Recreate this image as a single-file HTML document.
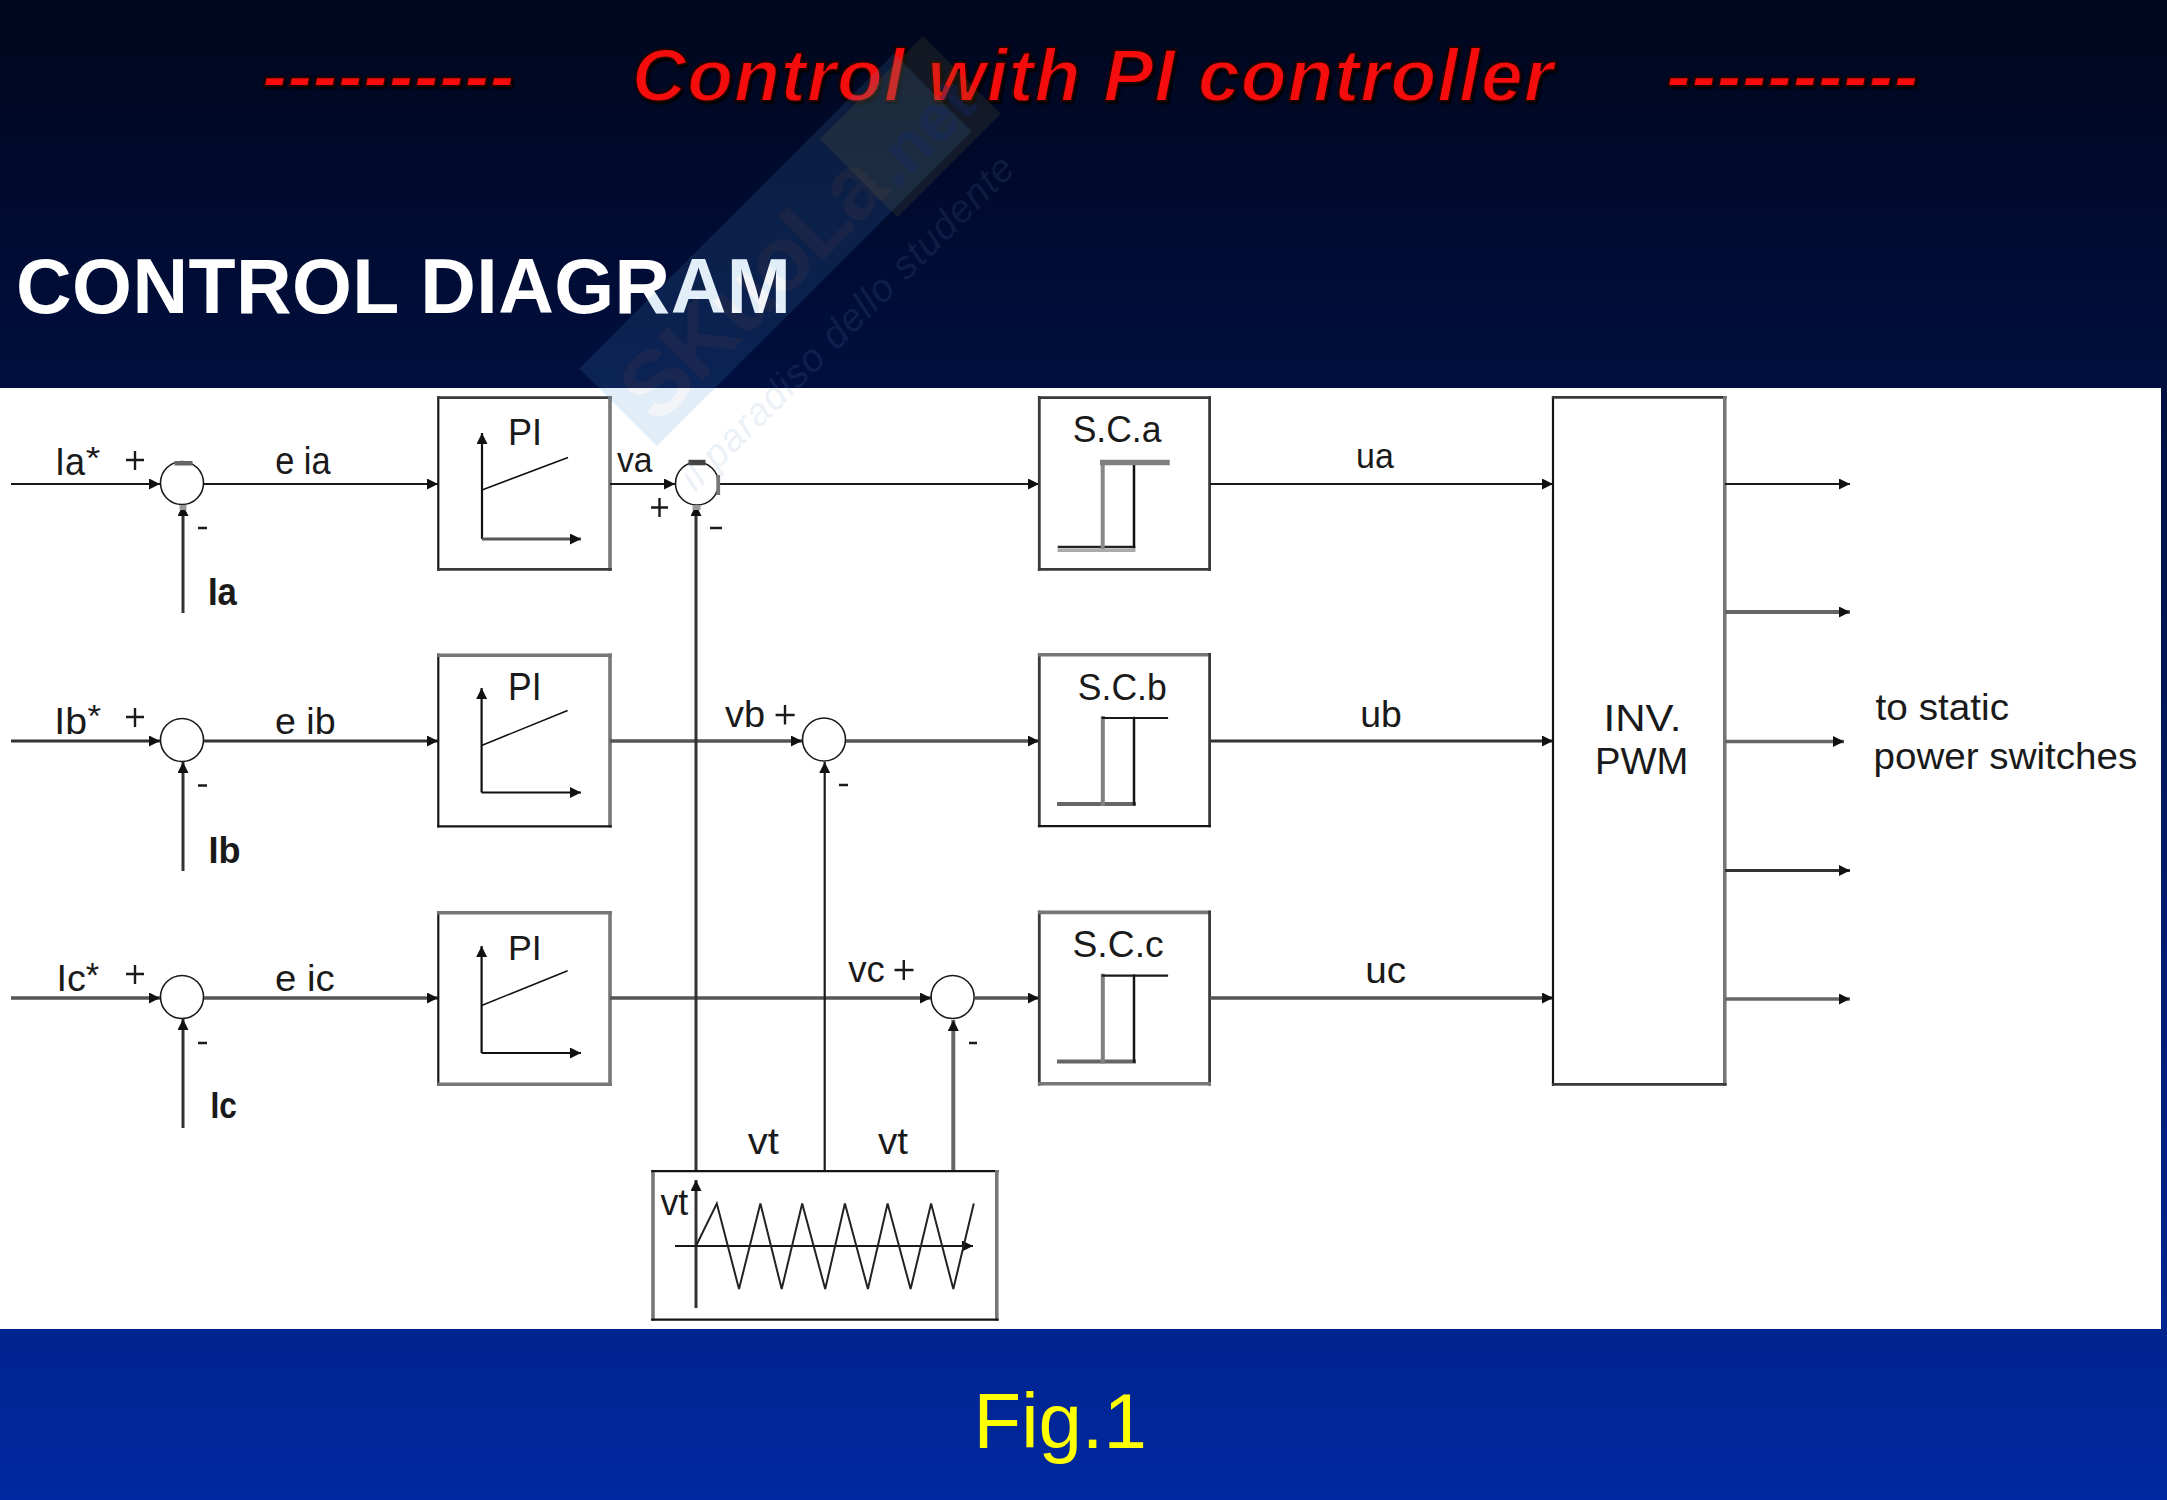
<!DOCTYPE html>
<html><head><meta charset="utf-8">
<style>
html,body{margin:0;padding:0;}
body{width:2167px;height:1500px;overflow:hidden;position:relative;
background:linear-gradient(to bottom,#00061c 0px,#000f3f 388px,#00248f 1330px,#0028a0 1500px);
font-family:"Liberation Sans",sans-serif;}
.t{position:absolute;white-space:pre;line-height:1;}
#title{color:#f50d0d;font-weight:bold;font-style:italic;font-size:75px;letter-spacing:0.3px;text-shadow:2px 3px 2px #000,0 0 2px #000;-webkit-text-stroke:2px #200404;}
#head{color:#fff;font-weight:bold;font-size:77px;letter-spacing:0.45px;}
#fig{color:#ffff00;font-size:78px;}
#white{position:absolute;left:0;top:388px;width:2161px;height:941px;background:#fff;}
svg{position:absolute;left:0;top:0;}
</style></head>
<body>
<div id="white"></div>
<div class="t" id="title" style="left:262px;top:38px;">----------</div>
<div class="t" id="title2" style="position:absolute;left:632px;top:38px;color:#f50d0d;font-weight:bold;font-style:italic;font-size:75px;letter-spacing:1.0px;text-shadow:2px 3px 2px #000,0 0 2px #000;-webkit-text-stroke:2px #200404;white-space:pre;line-height:1;">Control with PI controller</div>
<div class="t" id="title3" style="position:absolute;left:1666px;top:38px;color:#f50d0d;font-weight:bold;font-style:italic;font-size:75px;letter-spacing:0.3px;text-shadow:2px 3px 2px #000,0 0 2px #000;-webkit-text-stroke:2px #200404;white-space:pre;line-height:1;">----------</div>
<div class="t" id="head" style="left:16px;top:247.5px;">CONTROL DIAGRAM</div>
<div class="t" id="fig" style="left:973.5px;top:1381.7px;">Fig.1</div>

<svg width="2167" height="1500" viewBox="0 0 2167 1500">
<defs>
<marker id="ar" markerWidth="12" markerHeight="12" refX="11" refY="5.5" orient="auto" markerUnits="userSpaceOnUse">
<path d="M0,0 L11,5.5 L0,11 z" fill="#111"/>
</marker>
</defs>
<g fill="none" stroke="#1a1a1a" stroke-width="2">
<!-- Row A -->
<line x1="11" y1="484" x2="160" y2="484" marker-end="url(#ar)"/>
<circle cx="182" cy="483" r="21.5" stroke-width="1.6"/>
<line x1="183" y1="613" x2="183" y2="505" marker-end="url(#ar)" stroke="#333" stroke-width="3"/>
<line x1="204" y1="484" x2="438" y2="484" marker-end="url(#ar)"/>
<path d="M438.3,396.20000000000005 V570.8" stroke="#151515" stroke-width="2.2"/><path d="M437.2,397.6 H611.8" stroke="#3a3a3a" stroke-width="2.8"/><path d="M610,396.20000000000005 V570.8" stroke="#777" stroke-width="3.6"/><path d="M437.2,569.4 H611.8" stroke="#3a3a3a" stroke-width="2.8"/>
<line x1="610" y1="484" x2="675" y2="484" marker-end="url(#ar)"/>
<circle cx="697" cy="483.5" r="21.5" stroke-width="1.6"/>
<line x1="719" y1="484" x2="1039" y2="484" marker-end="url(#ar)"/>
<path d="M1039.3,396.20000000000005 V570.8" stroke="#3a3a3a" stroke-width="2.8"/><path d="M1037.8999999999999,397.6 H1211.0" stroke="#3a3a3a" stroke-width="2.8"/><path d="M1209.6,396.20000000000005 V570.8" stroke="#3a3a3a" stroke-width="2.8"/><path d="M1037.8999999999999,569.4 H1211.0" stroke="#3a3a3a" stroke-width="2.8"/>
<line x1="1210" y1="484" x2="1553" y2="484" marker-end="url(#ar)"/>
<!-- Row B -->
<line x1="11" y1="741" x2="160" y2="741" marker-end="url(#ar)" stroke="#333" stroke-width="3"/>
<circle cx="182" cy="740" r="21.5" stroke-width="1.6"/>
<line x1="183" y1="871" x2="183" y2="762" marker-end="url(#ar)" stroke="#333" stroke-width="3"/>
<line x1="204" y1="741" x2="438" y2="741" marker-end="url(#ar)" stroke="#333" stroke-width="3"/>
<path d="M438.3,653.5 V827.4" stroke="#151515" stroke-width="2.2"/><path d="M437.2,655.3 H611.8" stroke="#777" stroke-width="3.6"/><path d="M610,653.5 V827.4" stroke="#777" stroke-width="3.6"/><path d="M437.2,826.3 H611.8" stroke="#151515" stroke-width="2.2"/>
<line x1="610" y1="741" x2="802" y2="741" marker-end="url(#ar)" stroke="#555" stroke-width="3.5"/>
<circle cx="824" cy="739.5" r="21.5" stroke-width="1.6"/>
<line x1="846" y1="741" x2="1039" y2="741" marker-end="url(#ar)" stroke="#555" stroke-width="3.5"/>
<path d="M1039.3,653.0 V827.2" stroke="#3a3a3a" stroke-width="2.8"/><path d="M1037.8999999999999,654.8 H1211.0" stroke="#777" stroke-width="3.6"/><path d="M1209.6,653.0 V827.2" stroke="#3a3a3a" stroke-width="2.8"/><path d="M1037.8999999999999,826.1 H1211.0" stroke="#151515" stroke-width="2.2"/>
<line x1="1210" y1="741" x2="1553" y2="741" marker-end="url(#ar)" stroke="#333" stroke-width="3"/>
<!-- Row C -->
<line x1="11" y1="998" x2="160" y2="998" marker-end="url(#ar)" stroke="#555" stroke-width="3.5"/>
<circle cx="182" cy="997" r="21.5" stroke-width="1.6"/>
<line x1="183" y1="1128" x2="183" y2="1019" marker-end="url(#ar)" stroke="#333" stroke-width="3"/>
<line x1="204" y1="998" x2="438" y2="998" marker-end="url(#ar)" stroke="#555" stroke-width="3.5"/>
<path d="M438.3,911.0 V1086.0" stroke="#151515" stroke-width="2.2"/><path d="M437.2,912.8 H611.8" stroke="#777" stroke-width="3.6"/><path d="M610,911.0 V1086.0" stroke="#777" stroke-width="3.6"/><path d="M437.2,1084.2 H611.8" stroke="#777" stroke-width="3.6"/>
<line x1="610" y1="998" x2="931" y2="998" marker-end="url(#ar)" stroke="#555" stroke-width="3.5"/>
<circle cx="952.6" cy="997" r="21.5" stroke-width="1.6"/>
<line x1="974" y1="998" x2="1039" y2="998" marker-end="url(#ar)" stroke="#555" stroke-width="3.5"/>
<path d="M1039.3,910.6 V1085.6" stroke="#3a3a3a" stroke-width="2.8"/><path d="M1037.8999999999999,912.4 H1211.0" stroke="#777" stroke-width="3.6"/><path d="M1209.6,910.6 V1085.6" stroke="#3a3a3a" stroke-width="2.8"/><path d="M1037.8999999999999,1083.8 H1211.0" stroke="#777" stroke-width="3.6"/>
<line x1="1210" y1="998" x2="1553" y2="998" marker-end="url(#ar)" stroke="#555" stroke-width="3.5"/>
<!-- INV -->
<path d="M1553,395.90000000000003 V1085.7" stroke="#151515" stroke-width="2.2"/><path d="M1551.9,397.3 H1726.6" stroke="#3a3a3a" stroke-width="2.8"/><path d="M1724.8,395.90000000000003 V1085.7" stroke="#777" stroke-width="3.6"/><path d="M1551.9,1084.3 H1726.6" stroke="#3a3a3a" stroke-width="2.8"/>
<line x1="1725" y1="484" x2="1850" y2="484" marker-end="url(#ar)"/>
<line x1="1725" y1="612" x2="1850" y2="612" marker-end="url(#ar)" stroke="#666" stroke-width="4"/>
<line x1="1725" y1="741.5" x2="1844" y2="741.5" marker-end="url(#ar)" stroke="#666" stroke-width="3.5"/>
<line x1="1725" y1="870.5" x2="1850" y2="870.5" marker-end="url(#ar)" stroke="#333" stroke-width="3"/>
<line x1="1725" y1="999" x2="1850" y2="999" marker-end="url(#ar)" stroke="#666" stroke-width="3.5"/>
<!-- verticals from triangle generator -->
<line x1="696" y1="1171" x2="696" y2="505" marker-end="url(#ar)" stroke="#333" stroke-width="3"/>
<line x1="824.7" y1="1171" x2="824.7" y2="762" marker-end="url(#ar)" stroke-width="2.2"/>
<line x1="953.3" y1="1171" x2="953.3" y2="1020" marker-end="url(#ar)" stroke="#666" stroke-width="4"/>
<path d="M653,1170.0 V1320.6999999999998" stroke="#777" stroke-width="3.6"/><path d="M651.2,1171.1 H998.5999999999999" stroke="#151515" stroke-width="2.2"/><path d="M996.8,1170.0 V1320.6999999999998" stroke="#777" stroke-width="3.6"/><path d="M651.2,1319.6 H998.5999999999999" stroke="#151515" stroke-width="2.2"/>
<!-- generator inner -->
<line x1="696" y1="1308" x2="696" y2="1180" marker-end="url(#ar)" stroke="#333" stroke-width="3"/>
<line x1="675" y1="1246" x2="973" y2="1246" marker-end="url(#ar)" stroke-width="2.2"/>
<polyline points="696,1246 716.8,1203.5 739,1289 760.4,1203.5 781.7,1289 802.2,1203.5 825.2,1289 844.9,1203.5 867.9,1289 887.6,1203.5 910.6,1289 931.1,1203.5 953.3,1289 973.8,1203.5" stroke="#222" stroke-width="2"/>
<!-- PI inner axes -->
<g stroke="#111" stroke-width="2.2">
<line x1="482" y1="539" x2="482" y2="433" marker-end="url(#ar)"/>
<line x1="482" y1="539" x2="581" y2="539" marker-end="url(#ar)" stroke="#555" stroke-width="3"/>
<line x1="482" y1="490" x2="568" y2="457.5" stroke-width="1.6"/>
<line x1="481.6" y1="792.5" x2="481.6" y2="688" marker-end="url(#ar)"/>
<line x1="481.6" y1="792.5" x2="581" y2="792.5" marker-end="url(#ar)"/>
<line x1="481.6" y1="745.5" x2="567.6" y2="710.5" stroke-width="1.6"/>
<line x1="481.6" y1="1053" x2="481.6" y2="946" marker-end="url(#ar)"/>
<line x1="481.6" y1="1053" x2="581" y2="1053" marker-end="url(#ar)"/>
<line x1="481.6" y1="1005.5" x2="567.6" y2="970.7" stroke-width="1.6"/>
</g>
<!-- SC steps -->
<g stroke-width="2.6" stroke-linecap="square">
<path d="M1059,547 H1134" stroke="#222" stroke-width="2.6"/>
<path d="M1059,550.5 H1134" stroke="#aaa" stroke-width="3"/>
<path d="M1102.7,547 V462" stroke="#888" stroke-width="4"/>
<path d="M1134,547 V462" stroke="#111" stroke-width="2.5"/>
<path d="M1102.7,462.5 H1167" stroke="#808080" stroke-width="5.5"/>
<path d="M1059,804 H1134" stroke="#666" stroke-width="4"/>
<path d="M1102.8,804 V718" stroke="#808080" stroke-width="4"/>
<path d="M1134,804 V718" stroke="#151515" stroke-width="2.5"/>
<path d="M1102.8,718 H1167" stroke="#1a1a1a" stroke-width="2.2"/>
<path d="M1059,1061.5 H1134" stroke="#666" stroke-width="4"/>
<path d="M1102.8,1061.5 V975.7" stroke="#808080" stroke-width="4"/>
<path d="M1134,1061.5 V975.7" stroke="#151515" stroke-width="2.5"/>
<path d="M1102.8,975.7 H1167" stroke="#1a1a1a" stroke-width="2.2"/>
</g>
</g>
<!--LABELS-->
<g font-family="Liberation Sans" fill="#1a1a1a">
<text x="55.10" y="475.30" font-size="38.85" textLength="30.06" lengthAdjust="spacingAndGlyphs">Ia</text>
<text x="85.67" y="469.11" font-size="31.11" textLength="14.54" lengthAdjust="spacingAndGlyphs">*</text>
<text x="54.26" y="733.60" font-size="36.45" textLength="32.71" lengthAdjust="spacingAndGlyphs">Ib</text>
<text x="87.47" y="727.24" font-size="32.04" textLength="13.45" lengthAdjust="spacingAndGlyphs">*</text>
<text x="56.42" y="990.50" font-size="37.71" textLength="29.38" lengthAdjust="spacingAndGlyphs">Ic</text>
<text x="85.78" y="987.13" font-size="34.53" textLength="13.33" lengthAdjust="spacingAndGlyphs">*</text>
<text x="275.14" y="473.70" font-size="37.96" textLength="55.54" lengthAdjust="spacingAndGlyphs">e ia</text>
<text x="274.97" y="733.60" font-size="36.45" textLength="60.62" lengthAdjust="spacingAndGlyphs">e ib</text>
<text x="274.92" y="990.50" font-size="36.31" textLength="59.82" lengthAdjust="spacingAndGlyphs">e ic</text>
<text x="207.88" y="605.30" font-size="38.85" font-weight="bold" textLength="28.99" lengthAdjust="spacingAndGlyphs">Ia</text>
<text x="208.38" y="862.80" font-size="37.41" font-weight="bold" textLength="32.07" lengthAdjust="spacingAndGlyphs">Ib</text>
<text x="210.44" y="1117.70" font-size="36.15" font-weight="bold" textLength="26.29" lengthAdjust="spacingAndGlyphs">Ic</text>
<text x="507.91" y="445.40" font-size="36.31" textLength="34.06" lengthAdjust="spacingAndGlyphs">PI</text>
<text x="508.12" y="700.40" font-size="38.71" textLength="33.52" lengthAdjust="spacingAndGlyphs">PI</text>
<text x="508.02" y="959.70" font-size="35.72" textLength="33.77" lengthAdjust="spacingAndGlyphs">PI</text>
<text x="1072.63" y="441.70" font-size="36.00" textLength="88.82" lengthAdjust="spacingAndGlyphs">S.C.a</text>
<text x="1077.83" y="699.80" font-size="36.80" textLength="88.91" lengthAdjust="spacingAndGlyphs">S.C.b</text>
<text x="1072.53" y="957.30" font-size="36.00" textLength="91.12" lengthAdjust="spacingAndGlyphs">S.C.c</text>
<text x="1603.50" y="731.40" font-size="36.55" textLength="77.84" lengthAdjust="spacingAndGlyphs">INV.</text>
<text x="1595.02" y="774.00" font-size="36.55" textLength="93.35" lengthAdjust="spacingAndGlyphs">PWM</text>
<text x="617.00" y="471.60" font-size="34.38" textLength="35.62" lengthAdjust="spacingAndGlyphs">va</text>
<text x="725.00" y="726.50" font-size="36.67" textLength="40.09" lengthAdjust="spacingAndGlyphs">vb</text>
<text x="848.30" y="981.50" font-size="36.27" textLength="36.58" lengthAdjust="spacingAndGlyphs">vc</text>
<text x="1356.12" y="467.60" font-size="35.28" textLength="37.73" lengthAdjust="spacingAndGlyphs">ua</text>
<text x="1360.32" y="726.60" font-size="36.53" textLength="41.56" lengthAdjust="spacingAndGlyphs">ub</text>
<text x="1365.15" y="983.00" font-size="36.00" textLength="40.97" lengthAdjust="spacingAndGlyphs">uc</text>
<text x="747.70" y="1153.80" font-size="36.30" textLength="31.12" lengthAdjust="spacingAndGlyphs">vt</text>
<text x="878.00" y="1153.80" font-size="36.30" textLength="30.02" lengthAdjust="spacingAndGlyphs">vt</text>
<text x="660.50" y="1214.60" font-size="36.94" textLength="27.78" lengthAdjust="spacingAndGlyphs">vt</text>
<text x="1875.58" y="720.10" font-size="37.46" textLength="133.49" lengthAdjust="spacingAndGlyphs">to static</text>
<text x="1873.55" y="769.21" font-size="36.52" textLength="263.74" lengthAdjust="spacingAndGlyphs">power switches</text>
</g>
<!--/LABELS-->
<!-- artifacts -->
<g stroke="none">
<rect x="174.5" y="461" width="18" height="4.5" fill="#666"/>
<rect x="688.5" y="459.8" width="17" height="5.5" fill="#444"/>
<rect x="716.3" y="475" width="3.8" height="20" fill="#777"/>
<rect x="692.5" y="505" width="8" height="5" fill="#999"/>
<rect x="179.5" y="505" width="7" height="5" fill="#999"/>
</g>
<!-- plus / minus marks -->
<g stroke="#1a1a1a" stroke-width="2.4">
<path d="M126,460 h18 M135,451 v19"/>
<path d="M126,717 h18 M135,708 v19"/>
<path d="M126,974 h18 M135,965 v19"/>
<path d="M651,507.5 h17 M659.5,498 v19"/>
<path d="M775.6,715 h19 M785,705 v19.5"/>
<path d="M894.5,970 h19 M903.8,960 v20"/>
<path d="M198,528 h9 M198,785.5 h9 M198,1043 h9 M710,528 h12 M839,785 h9 M969,1043 h8"/>
</g>
</svg>

<svg width="2167" height="1500" viewBox="0 0 2167 1500" style="position:absolute;left:0;top:0;">
<defs>
<mask id="wmask" maskUnits="userSpaceOnUse" x="-200" y="-300" width="800" height="500">
<rect x="-200" y="-300" width="800" height="500" fill="#fff"/>
<text x="14" y="-14" font-family="Liberation Sans" font-weight="bold" font-size="92" fill="#000" letter-spacing="-3">SKuoLa</text>
</mask>
</defs>
<g transform="translate(657,446) rotate(-45)">
<rect x="0" y="-110" width="445" height="110" fill="rgb(70,140,205)" fill-opacity="0.16" mask="url(#wmask)"/>
<text x="14" y="-14" font-family="Liberation Sans" font-weight="bold" font-size="92" fill="rgb(170,180,200)" fill-opacity="0.15" letter-spacing="-3">SKuoLa</text>
<rect x="332" y="-102" width="146" height="110" fill="rgb(120,110,50)" fill-opacity="0.16"/>
<text x="350" y="-12" font-family="Liberation Sans" font-weight="bold" font-size="66" fill="rgb(20,40,110)" fill-opacity="0.35">.net</text>
<text x="-6" y="60" font-family="Liberation Sans" font-style="italic" font-size="39" fill="rgb(110,150,200)" fill-opacity="0.14" textLength="455" lengthAdjust="spacing">il paradiso dello studente</text>
</g>
</svg>
</body></html>
